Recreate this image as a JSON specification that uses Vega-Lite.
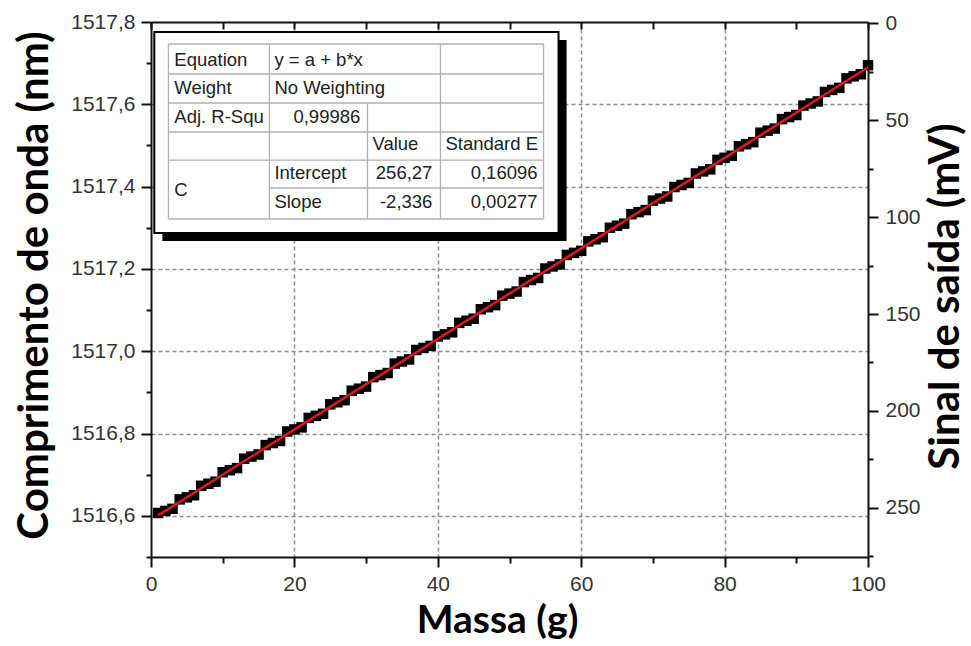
{
  "$schema": "https://vega.github.io/schema/vega-lite/v6.json",
  "autosize": {"type": "none"},
  "padding": {"left": 151, "top": 22, "right": 103, "bottom": 89},
  "width": 717,
  "height": 535,
  "background": "white",
  "config": {
    "view": {"stroke": null},
    "locale": {"number": {"decimal": ",", "thousands": ".", "grouping": [3], "currency": ["", ""]}}
  },
  "datasets": {
    "pts": [
      {"m": 1, "wl": 1516.607}, {"m": 2, "wl": 1516.612}, {"m": 3, "wl": 1516.617},
      {"m": 4, "wl": 1516.640}, {"m": 5, "wl": 1516.645}, {"m": 6, "wl": 1516.650},
      {"m": 7, "wl": 1516.673}, {"m": 8, "wl": 1516.678}, {"m": 9, "wl": 1516.683},
      {"m": 10, "wl": 1516.706}, {"m": 11, "wl": 1516.711}, {"m": 12, "wl": 1516.716},
      {"m": 13, "wl": 1516.739}, {"m": 14, "wl": 1516.744}, {"m": 15, "wl": 1516.749},
      {"m": 16, "wl": 1516.772}, {"m": 17, "wl": 1516.777}, {"m": 18, "wl": 1516.782},
      {"m": 19, "wl": 1516.805}, {"m": 20, "wl": 1516.810}, {"m": 21, "wl": 1516.815},
      {"m": 22, "wl": 1516.838}, {"m": 23, "wl": 1516.843}, {"m": 24, "wl": 1516.848},
      {"m": 25, "wl": 1516.871}, {"m": 26, "wl": 1516.876}, {"m": 27, "wl": 1516.881},
      {"m": 28, "wl": 1516.904}, {"m": 29, "wl": 1516.909}, {"m": 30, "wl": 1516.914},
      {"m": 31, "wl": 1516.937}, {"m": 32, "wl": 1516.942}, {"m": 33, "wl": 1516.947},
      {"m": 34, "wl": 1516.970}, {"m": 35, "wl": 1516.975}, {"m": 36, "wl": 1516.980},
      {"m": 37, "wl": 1517.003}, {"m": 38, "wl": 1517.008}, {"m": 39, "wl": 1517.013},
      {"m": 40, "wl": 1517.036}, {"m": 41, "wl": 1517.041}, {"m": 42, "wl": 1517.046},
      {"m": 43, "wl": 1517.069}, {"m": 44, "wl": 1517.074}, {"m": 45, "wl": 1517.079},
      {"m": 46, "wl": 1517.102}, {"m": 47, "wl": 1517.107}, {"m": 48, "wl": 1517.112},
      {"m": 49, "wl": 1517.135}, {"m": 50, "wl": 1517.140}, {"m": 51, "wl": 1517.145},
      {"m": 52, "wl": 1517.168}, {"m": 53, "wl": 1517.173}, {"m": 54, "wl": 1517.178},
      {"m": 55, "wl": 1517.201}, {"m": 56, "wl": 1517.206}, {"m": 57, "wl": 1517.211},
      {"m": 58, "wl": 1517.234}, {"m": 59, "wl": 1517.239}, {"m": 60, "wl": 1517.244},
      {"m": 61, "wl": 1517.267}, {"m": 62, "wl": 1517.272}, {"m": 63, "wl": 1517.277},
      {"m": 64, "wl": 1517.300}, {"m": 65, "wl": 1517.305}, {"m": 66, "wl": 1517.310},
      {"m": 67, "wl": 1517.333}, {"m": 68, "wl": 1517.338}, {"m": 69, "wl": 1517.343},
      {"m": 70, "wl": 1517.366}, {"m": 71, "wl": 1517.371}, {"m": 72, "wl": 1517.376},
      {"m": 73, "wl": 1517.399}, {"m": 74, "wl": 1517.404}, {"m": 75, "wl": 1517.409},
      {"m": 76, "wl": 1517.432}, {"m": 77, "wl": 1517.437}, {"m": 78, "wl": 1517.442},
      {"m": 79, "wl": 1517.465}, {"m": 80, "wl": 1517.470}, {"m": 81, "wl": 1517.475},
      {"m": 82, "wl": 1517.498}, {"m": 83, "wl": 1517.503}, {"m": 84, "wl": 1517.508},
      {"m": 85, "wl": 1517.531}, {"m": 86, "wl": 1517.536}, {"m": 87, "wl": 1517.541},
      {"m": 88, "wl": 1517.564}, {"m": 89, "wl": 1517.569}, {"m": 90, "wl": 1517.574},
      {"m": 91, "wl": 1517.597}, {"m": 92, "wl": 1517.602}, {"m": 93, "wl": 1517.607},
      {"m": 94, "wl": 1517.630}, {"m": 95, "wl": 1517.635}, {"m": 96, "wl": 1517.640},
      {"m": 97, "wl": 1517.663}, {"m": 98, "wl": 1517.668}, {"m": 99, "wl": 1517.673},
      {"m": 100, "wl": 1517.695}
    ],
    "fit": [{"m": 1, "sinal": 253.934}, {"m": 100, "sinal": 22.67}],
    "shadow": [{"a": 1.58, "b": 57.96, "c": 1517.7563, "d": 1517.2678}],
    "box": [{"a": 0.46, "b": 56.84, "c": 1517.7757, "d": 1517.2872}],
    "hlines": [
      {"a": 2.43, "b": 54.75, "c": 1517.7465},
      {"a": 2.43, "b": 54.75, "c": 1517.6736},
      {"a": 2.43, "b": 54.75, "c": 1517.6032},
      {"a": 2.43, "b": 54.75, "c": 1517.5327},
      {"a": 2.43, "b": 54.75, "c": 1517.4646},
      {"a": 16.52, "b": 54.75, "c": 1517.3966},
      {"a": 2.43, "b": 54.75, "c": 1517.3213}
    ],
    "vlines": [
      {"a": 2.43, "c": 1517.7465, "d": 1517.3213},
      {"a": 16.52, "c": 1517.7465, "d": 1517.3213},
      {"a": 30.19, "c": 1517.6032, "d": 1517.3213},
      {"a": 40.37, "c": 1517.7465, "d": 1517.3213},
      {"a": 54.75, "c": 1517.7465, "d": 1517.3213}
    ],
    "txtL": [
      {"a": 3.25, "c": 1517.7077, "t": "Equation"},
      {"a": 3.25, "c": 1517.6396, "t": "Weight"},
      {"a": 3.25, "c": 1517.5691, "t": "Adj. R-Squ"},
      {"a": 3.25, "c": 1517.3917, "t": "C"},
      {"a": 17.21, "c": 1517.7077, "t": "y = a + b*x"},
      {"a": 17.21, "c": 1517.6396, "t": "No Weighting"},
      {"a": 30.88, "c": 1517.5035, "t": "Value"},
      {"a": 41.07, "c": 1517.5035, "t": "Standard E"},
      {"a": 17.21, "c": 1517.433, "t": "Intercept"},
      {"a": 17.21, "c": 1517.3626, "t": "Slope"}
    ],
    "txtR": [
      {"a": 29.19, "c": 1517.5691, "t": "0,99986"},
      {"a": 39.25, "c": 1517.433, "t": "256,27"},
      {"a": 39.25, "c": 1517.3626, "t": "-2,336"},
      {"a": 53.91, "c": 1517.433, "t": "0,16096"},
      {"a": 53.91, "c": 1517.3626, "t": "0,00277"}
    ]
  },
  "layer": [
    {
      "layer": [
        {
          "data": {"name": "pts"},
          "mark": {"type": "point", "shape": "square", "filled": true, "size": 110, "color": "#000", "opacity": 1},
          "encoding": {
            "x": {
              "field": "m", "type": "quantitative",
              "scale": {"domain": [0, 100], "nice": false, "zero": false},
              "axis": {
                "title": "Massa (g)",
                "values": [0, 10, 20, 30, 40, 50, 60, 70, 80, 90, 100],
                "labelExpr": "datum.value % 20 === 0 ? datum.label : ''",
                "labelOverlap": false, "labelFlush": false,
                "tickSize": {"condition": {"test": "datum.value % 20 === 0", "value": 10}, "value": 6},
                "tickColor": "#111", "tickWidth": 2,
                "domainColor": "#111", "domainWidth": 2,
                "grid": true,
                "gridOpacity": {"condition": {"test": "datum.value % 20 === 0 && datum.value > 0 && datum.value < 100", "value": 1}, "value": 0},
                "gridDash": [4, 3], "gridColor": "#8a8a8a", "gridWidth": 1.5,
                "labelFont": "Liberation Sans", "labelFontSize": 21, "labelColor": "#333", "labelPadding": 6,
                "titleFont": "Lato", "titleFontSize": 39, "titleFontWeight": "bold", "titleColor": "#000", "titlePadding": 7,
                "titleX": 346
              }
            },
            "y": {
              "field": "wl", "type": "quantitative",
              "scale": {"domain": [1516.5, 1517.8], "nice": false, "zero": false},
              "axis": {
                "title": "Comprimento de onda (nm)",
                "values": [1516.5, 1516.6, 1516.7, 1516.8, 1516.9, 1517.0, 1517.1, 1517.2, 1517.3, 1517.4, 1517.5, 1517.6, 1517.7, 1517.8],
                "format": ".1f",
                "labelExpr": "round(datum.value * 10) % 2 === 0 ? datum.label : ''",
                "labelOverlap": false, "labelFlush": false,
                "tickSize": {"condition": {"test": "round(datum.value * 10) % 2 === 0", "value": 10}, "value": 5},
                "tickColor": "#111", "tickWidth": 2,
                "domainColor": "#111", "domainWidth": 2,
                "grid": true,
                "gridOpacity": {"condition": {"test": "round(datum.value * 10) % 2 === 0 && datum.value < 1517.75", "value": 1}, "value": 0},
                "gridDash": [4, 3], "gridColor": "#8a8a8a", "gridWidth": 1.5,
                "labelFont": "Liberation Sans", "labelFontSize": 21, "labelColor": "#333", "labelPadding": 6,
                "titleFont": "Lato", "titleFontSize": 42, "titleFontWeight": "bold", "titleColor": "#000", "titlePadding": 14,
                "titleY": 263
              }
            }
          }
        },
        {
          "data": {"name": "shadow"},
          "mark": {"type": "rect", "fill": "#000"},
          "encoding": {
            "x": {"field": "a", "type": "quantitative"},
            "x2": {"field": "b"},
            "y": {"field": "c", "type": "quantitative"},
            "y2": {"field": "d"}
          }
        },
        {
          "data": {"name": "box"},
          "mark": {"type": "rect", "fill": "#fff", "stroke": "#000", "strokeWidth": 2},
          "encoding": {
            "x": {"field": "a", "type": "quantitative"},
            "x2": {"field": "b"},
            "y": {"field": "c", "type": "quantitative"},
            "y2": {"field": "d"}
          }
        },
        {
          "data": {"name": "hlines"},
          "mark": {"type": "rule", "color": "#b0b0b0", "strokeWidth": 1.3},
          "encoding": {
            "x": {"field": "a", "type": "quantitative"},
            "x2": {"field": "b"},
            "y": {"field": "c", "type": "quantitative"}
          }
        },
        {
          "data": {"name": "vlines"},
          "mark": {"type": "rule", "color": "#b0b0b0", "strokeWidth": 1.3},
          "encoding": {
            "x": {"field": "a", "type": "quantitative"},
            "y": {"field": "c", "type": "quantitative"},
            "y2": {"field": "d"}
          }
        },
        {
          "data": {"name": "txtL"},
          "mark": {"type": "text", "align": "left", "baseline": "middle", "font": "Liberation Sans", "fontSize": 18.5, "color": "#222"},
          "encoding": {
            "x": {"field": "a", "type": "quantitative"},
            "y": {"field": "c", "type": "quantitative"},
            "text": {"field": "t"}
          }
        },
        {
          "data": {"name": "txtR"},
          "mark": {"type": "text", "align": "right", "baseline": "middle", "font": "Liberation Sans", "fontSize": 18.5, "color": "#222"},
          "encoding": {
            "x": {"field": "a", "type": "quantitative"},
            "y": {"field": "c", "type": "quantitative"},
            "text": {"field": "t"}
          }
        }
      ]
    },
    {
      "data": {"name": "fit"},
      "mark": {"type": "line", "color": "#e3151d", "strokeWidth": 2.5},
      "encoding": {
        "x": {
          "field": "m", "type": "quantitative",
          "scale": {"domain": [0, 100], "nice": false, "zero": false},
          "axis": {
            "orient": "top", "title": null, "labels": false,
            "values": [0, 10, 20, 30, 40, 50, 60, 70, 80, 90, 100],
            "tickSize": -7, "tickColor": "#111", "tickWidth": 2,
            "domainColor": "#111", "domainWidth": 2, "grid": false
          }
        },
        "y": {
          "field": "sinal", "type": "quantitative",
          "scale": {"domain": [-0.7, 275.4], "reverse": true, "nice": false, "zero": false},
          "axis": {
            "orient": "right",
            "title": "Sinal de saída (mV)",
            "values": [0, 25, 50, 75, 100, 125, 150, 175, 200, 225, 250, 275],
            "labelExpr": "datum.value % 50 === 0 ? datum.label : ''",
            "labelOverlap": false, "labelFlush": false,
            "tickSize": {"condition": {"test": "datum.value % 50 === 0", "value": 10}, "value": 5},
            "tickColor": "#111", "tickWidth": 2,
            "domainColor": "#111", "domainWidth": 2, "grid": false,
            "labelFont": "Liberation Sans", "labelFontSize": 21, "labelColor": "#333", "labelPadding": 7,
            "titleFont": "Lato", "titleFontSize": 42, "titleFontWeight": "bold", "titleColor": "#000", "titlePadding": 5,
            "titleAngle": 270, "titleBaseline": "top", "titleY": 274
          }
        }
      }
    }
  ],
  "resolve": {"scale": {"x": "independent", "y": "independent"}}
}
